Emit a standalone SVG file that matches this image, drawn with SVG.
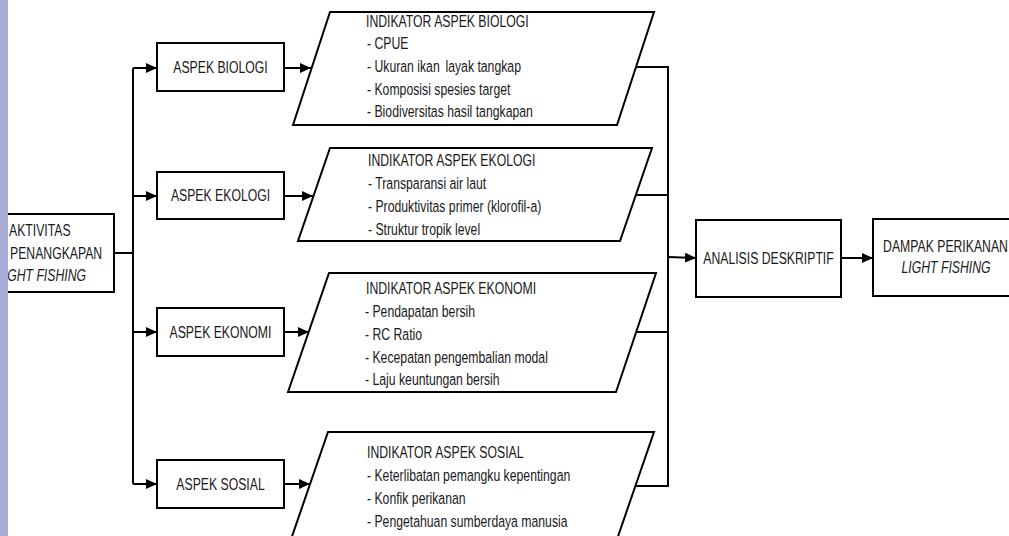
<svg xmlns="http://www.w3.org/2000/svg" width="1009" height="536" viewBox="0 0 1009 536">
<style>
.bx{fill:#fff;stroke:#000;stroke-width:2}
.pg{fill:#fff;stroke:#000;stroke-width:2;stroke-linejoin:miter}
.ln{fill:none;stroke:#000;stroke-width:2}
.ar{fill:none;stroke:#000;stroke-width:2;marker-end:url(#ah)}
text{font-family:"Liberation Sans",Arial,sans-serif;font-size:17px;fill:#1a1a1a}
.c{text-anchor:middle}
.i{font-style:italic}
</style>
<defs>
<marker id="ah" markerUnits="userSpaceOnUse" markerWidth="12" markerHeight="10" refX="11" refY="5" orient="auto">
<path d="M0,0 L11,5 L0,10 z" fill="#000"/>
</marker>
</defs>
<rect width="1009" height="536" fill="#fff"/>

<g id="aktivitas">
<rect class="bx" x="-20" y="214" width="134" height="78"/>
<text transform="translate(9 236) scale(0.72 1)">AKTIVITAS</text>
<text transform="translate(10 258.5) scale(0.72 1)">PENANGKAPAN</text>
<text class="i" transform="translate(-3 281) scale(0.72 1)">LIGHT FISHING</text>
</g>

<g id="aspek-biologi">
<rect class="bx" x="157" y="43" width="127" height="48"/>
<text class="c" transform="translate(220.5 73) scale(0.72 1)">ASPEK BIOLOGI</text>
</g>
<g id="aspek-ekologi">
<rect class="bx" x="157" y="172" width="127" height="47"/>
<text class="c" transform="translate(220.5 201) scale(0.72 1)">ASPEK EKOLOGI</text>
</g>
<g id="aspek-ekonomi">
<rect class="bx" x="157" y="308" width="127" height="48"/>
<text class="c" transform="translate(220.5 337.5) scale(0.72 1)">ASPEK EKONOMI</text>
</g>
<g id="aspek-sosial">
<rect class="bx" x="157" y="460" width="127" height="48"/>
<text class="c" transform="translate(220.5 489.5) scale(0.72 1)">ASPEK SOSIAL</text>
</g>

<g id="indikator-biologi">
<polygon class="pg" points="330,12 654,12 617,125 293,125"/>
<text transform="translate(366 27) scale(0.72 1)">INDIKATOR ASPEK BIOLOGI</text>
<text transform="translate(367 49) scale(0.72 1)">- CPUE</text>
<text transform="translate(367 71.5) scale(0.72 1)">- Ukuran ikan<tspan dx="8">layak tangkap</tspan></text>
<text transform="translate(367 94.5) scale(0.72 1)">- Komposisi spesies target</text>
<text transform="translate(367 117) scale(0.72 1)">- Biodiversitas hasil tangkapan</text>
</g>

<g id="indikator-ekologi">
<polygon class="pg" points="330,148 652,148 620,241 298,241"/>
<text transform="translate(368 166) scale(0.72 1)">INDIKATOR ASPEK EKOLOGI</text>
<text transform="translate(368 189) scale(0.72 1)">- Transparansi air laut</text>
<text transform="translate(368 212) scale(0.72 1)">- Produktivitas primer (klorofil-a)</text>
<text transform="translate(368 235) scale(0.72 1)">- Struktur tropik level</text>
</g>

<g id="indikator-ekonomi">
<polygon class="pg" points="329,273 656,273 616,392 288,392"/>
<text transform="translate(366 294) scale(0.72 1)">INDIKATOR ASPEK EKONOMI</text>
<text transform="translate(365 317) scale(0.72 1)">- Pendapatan bersih</text>
<text transform="translate(365 340) scale(0.72 1)">- RC Ratio</text>
<text transform="translate(365 363) scale(0.72 1)">- Kecepatan pengembalian modal</text>
<text transform="translate(365 385) scale(0.72 1)">- Laju keuntungan bersih</text>
</g>

<g id="indikator-sosial">
<polygon class="pg" points="328,432 654,432 614,548 288,548"/>
<text transform="translate(367 458) scale(0.72 1)">INDIKATOR ASPEK SOSIAL</text>
<text transform="translate(367 481) scale(0.72 1)">- Keterlibatan pemangku kepentingan</text>
<text transform="translate(367 504) scale(0.72 1)">- Konfik perikanan</text>
<text transform="translate(367 527) scale(0.72 1)">- Pengetahuan sumberdaya manusia</text>
</g>

<g id="analisis">
<rect class="bx" x="696" y="220" width="145" height="77"/>
<text class="c" transform="translate(768.5 263.5) scale(0.72 1)">ANALISIS DESKRIPTIF</text>
</g>

<g id="dampak">
<rect class="bx" x="873" y="219" width="150" height="77"/>
<text class="c" transform="translate(945.5 251.5) scale(0.72 1)">DAMPAK PERIKANAN</text>
<text class="c i" transform="translate(946 273) scale(0.72 1)">LIGHT FISHING</text>
</g>

<g id="connectors">
<path class="ln" d="M114,253 H133"/>
<path class="ln" d="M133,68 V484"/>
<path class="ar" d="M133,68 H157"/>
<path class="ar" d="M133,196 H157"/>
<path class="ar" d="M133,332 H157"/>
<path class="ar" d="M133,484 H157"/>
<path class="ar" d="M284,68 H311"/>
<path class="ar" d="M284,196 H313"/>
<path class="ar" d="M284,332 H309"/>
<path class="ar" d="M284,484 H310"/>
<path class="ln" d="M636,67 H668 M636,195 H668 M636,332 H668 M635,486 H668"/>
<path class="ln" d="M668,66 V487"/>
<path class="ar" d="M668,257 L696,258"/>
<path class="ar" d="M841,258 H873"/>
</g>

<rect id="side-bar" x="0" y="0" width="8" height="536" fill="#a9abd7"/>
</svg>
